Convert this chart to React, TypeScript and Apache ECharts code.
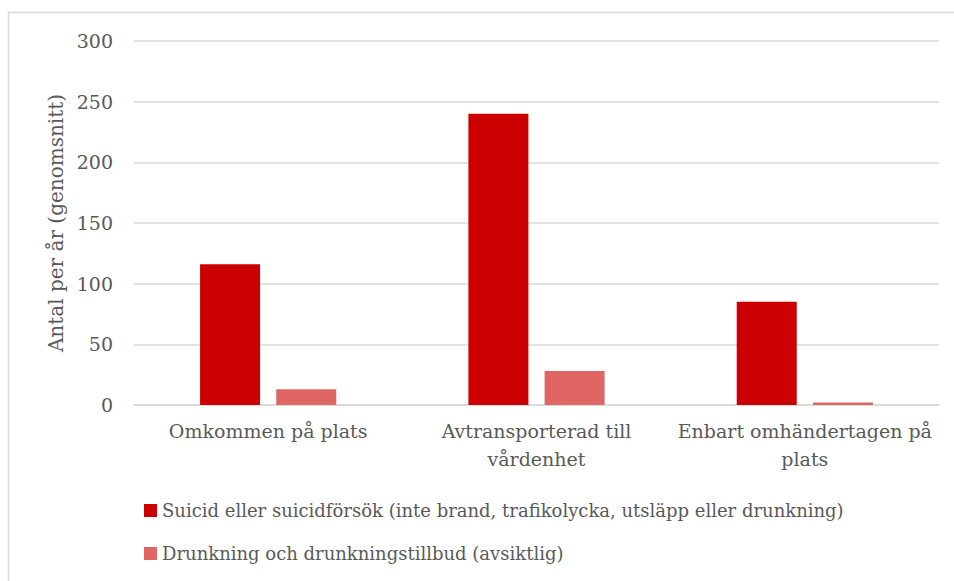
import React, { useEffect, useRef } from "react";
import * as echarts from "echarts";

const categories = [
  "Omkommen på plats",
  "Avtransporterad till\nvårdenhet",
  "Enbart omhändertagen på\nplats",
];
const seriesNames = [
  "Suicid eller suicidförsök (inte brand, trafikolycka, utsläpp eller drunkning)",
  "Drunkning och drunkningstillbud (avsiktlig)",
];
const suicidValues = [116, 240, 85];
const drunkningValues = [13, 28, 2];
const yTicks = { min: 0, max: 300, interval: 50 };

const FONT = "DejaVu Serif";
const TEXT = "#595959";
const GRID = "#d9d9d9";

export default function App() {
  const ref = useRef<HTMLDivElement>(null);
  useEffect(() => {
    if (!ref.current) return;
    const chart = echarts.init(ref.current, null, { renderer: "svg" });
    chart.setOption({
      animation: false,
      backgroundColor: "#ffffff",
      textStyle: { fontFamily: FONT },
      graphic: [
        {
          type: "rect",
          shape: { x: 8.5, y: 12.5, width: 1000, height: 700 },
          style: { fill: "none", stroke: GRID, lineWidth: 1.5 },
          silent: true,
        },
      ],
      grid: { left: 134, right: 15, top: 41, bottom: 176, containLabel: false },
      xAxis: {
        type: "category",
        data: categories,
        axisLine: { show: true, lineStyle: { color: GRID, width: 1.5 } },
        axisTick: { show: false },
        axisLabel: {
          color: TEXT,
          fontFamily: FONT,
          fontSize: 19,
          lineHeight: 28,
          margin: 12,
          interval: 0,
        },
      },
      yAxis: {
        type: "value",
        min: yTicks.min,
        max: yTicks.max,
        interval: yTicks.interval,
        name: "Antal per år (genomsnitt)",
        nameLocation: "middle",
        nameGap: 66,
        nameTextStyle: { color: TEXT, fontFamily: FONT, fontSize: 20 },
        axisLine: { show: false },
        axisTick: { show: false },
        splitLine: { lineStyle: { color: GRID, width: 1.5 } },
        axisLabel: { color: TEXT, fontFamily: FONT, fontSize: 19, margin: 21 },
      },
      legend: {
        orient: "vertical",
        left: 139,
        top: 493,
        itemWidth: 13,
        itemHeight: 13,
        itemGap: 18,
        icon: "rect",
        textStyle: { color: TEXT, fontFamily: FONT, fontSize: 18, lineHeight: 25 },
        data: seriesNames,
      },
      series: [
        {
          name: seriesNames[0],
          type: "bar",
          data: suicidValues,
          barWidth: 60,
          barGap: "27%",
          itemStyle: { color: "#CC0000" },
        },
        {
          name: seriesNames[1],
          type: "bar",
          data: drunkningValues,
          barWidth: 60,
          itemStyle: { color: "#E06666" },
        },
      ],
    });
    return () => chart.dispose();
  }, []);
  return (
    <div
      ref={ref}
      style={{ position: "fixed", left: 0, top: 0, width: 954, height: 581, background: "#fff" }}
    />
  );
}
